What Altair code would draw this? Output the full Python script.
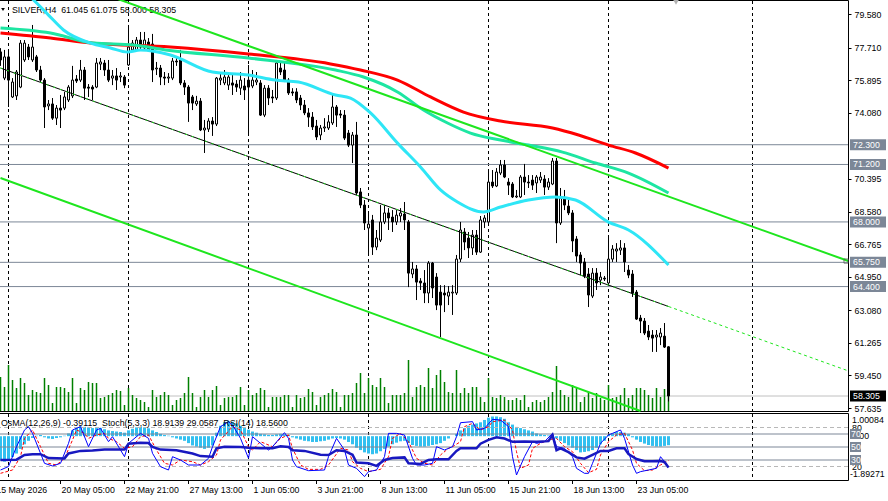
import altair as alt
import pandas as pd

FONT = "Liberation Sans"
FS = 8.8

# ---------------- price data (H4 candles) ----------------
OPEN = [77.47, 76.01, 77.19, 74.96, 75.02, 75.51, 77.02, 77.74, 77.02, 77.19,
        76.46, 75.90, 74.46, 74.57, 73.78, 74.34, 74.34, 74.79, 75.02, 75.96,
        75.90, 76.46, 75.51, 75.51, 75.51, 76.79, 76.85, 76.46, 76.01, 76.13,
        76.07, 76.07, 76.74, 77.58, 77.58, 78.13, 77.69, 78.02, 77.91, 76.52,
        76.57, 76.07, 76.01, 76.01, 76.96, 77.02, 75.74, 75.51, 74.96, 74.57,
        74.73, 73.12, 73.17, 73.62, 73.45, 75.90, 75.74, 75.62, 75.74, 75.68,
        75.45, 75.57, 75.90, 75.57, 75.79, 75.74, 73.95, 75.45, 74.96, 74.90,
        76.57, 76.46, 75.90, 75.24, 75.24, 74.90, 74.51, 74.07, 73.84, 73.34,
        72.84, 73.23, 73.23, 73.51, 74.40, 74.01, 73.95, 72.95, 72.28, 72.84,
        69.67, 68.94, 67.66, 68.11, 66.60, 66.99, 68.00, 68.50, 68.27, 68.00,
        68.33, 68.44, 68.00, 65.10, 65.38, 64.71, 64.60, 64.04, 65.71, 64.93,
        64.09, 64.04, 63.87, 64.04, 64.04, 65.93, 67.44, 67.10, 66.55, 67.27,
        66.32, 68.00, 68.00, 70.22, 70.00, 70.72, 71.17, 70.22, 70.11, 69.39,
        69.39, 70.50, 70.22, 70.33, 70.17, 70.33, 70.39, 69.94, 70.11, 71.39,
        67.94, 69.33, 68.88, 68.50, 67.05, 66.16, 65.77, 65.10, 63.87, 65.15,
        64.76, 64.87, 64.60, 65.93, 66.38, 66.43, 66.55, 65.32, 65.10, 64.09,
        62.65, 62.48, 61.92, 61.70, 61.59, 61.59, 61.64, 61.045]
HIGH = [77.68, 77.58, 77.58, 76.01, 76.46, 78.13, 78.13, 77.91, 78.97, 77.30,
        76.69, 76.01, 74.79, 74.90, 74.51, 75.07, 75.24, 75.62, 76.69, 76.18,
        77.02, 76.63, 75.68, 75.62, 77.13, 77.13, 77.02, 77.02, 76.46, 76.57,
        76.35, 76.18, 78.97, 78.13, 78.30, 78.58, 78.58, 78.24, 78.47, 76.91,
        76.74, 76.35, 76.29, 77.13, 77.24, 77.58, 75.90, 75.62, 75.07, 75.02,
        74.90, 73.68, 73.78, 73.84, 76.07, 76.35, 76.46, 76.18, 76.18, 75.90,
        76.35, 76.01, 76.74, 76.46, 76.35, 75.90, 75.62, 75.62, 75.35, 77.02,
        76.91, 76.91, 76.01, 75.45, 75.45, 75.07, 74.79, 74.34, 74.12, 73.68,
        73.40, 73.78, 73.95, 75.07, 74.51, 74.23, 74.23, 73.12, 73.01, 73.57,
        69.89, 69.22, 68.50, 68.39, 67.55, 68.94, 68.94, 68.77, 68.66, 68.66,
        68.77, 69.11, 68.11, 65.77, 65.60, 64.87, 65.32, 65.82, 65.77, 65.15,
        64.48, 64.48, 64.43, 64.48, 66.16, 68.00, 67.66, 67.44, 67.55, 67.55,
        68.33, 68.38, 70.78, 70.89, 71.00, 71.45, 71.45, 70.44, 70.22, 69.78,
        70.61, 71.23, 70.61, 70.61, 70.61, 70.78, 70.61, 70.44, 71.56, 71.56,
        69.89, 69.78, 69.22, 68.66, 67.21, 66.32, 65.99, 65.43, 65.43, 65.43,
        65.21, 64.99, 67.27, 66.71, 66.82, 66.99, 66.82, 65.60, 65.32, 64.21,
        62.82, 62.65, 62.26, 61.98, 61.98, 62.09, 62.37, 61.075]
LOW = [76.69, 75.90, 74.40, 74.90, 74.79, 75.45, 76.91, 77.02, 76.91, 76.35,
       75.79, 73.23, 74.23, 73.68, 73.40, 73.23, 74.23, 74.68, 74.90, 75.74,
       75.79, 74.79, 74.96, 74.79, 75.45, 76.46, 76.13, 75.79, 75.62, 75.35,
       75.79, 75.45, 76.69, 77.47, 77.47, 77.58, 77.58, 77.47, 75.79, 76.18,
       75.62, 75.62, 75.74, 75.90, 76.69, 75.62, 75.07, 73.57, 74.23, 74.46,
       73.06, 71.84, 73.01, 72.79, 73.34, 75.62, 75.62, 75.35, 75.07, 75.24,
       75.07, 74.79, 72.95, 75.45, 75.62, 73.90, 73.84, 74.51, 74.62, 74.79,
       76.18, 75.79, 75.07, 75.02, 74.62, 74.23, 73.95, 73.29, 73.12, 72.56,
       72.56, 73.01, 73.12, 73.40, 73.29, 73.78, 72.56, 72.17, 71.28, 69.50,
       68.77, 67.55, 66.27, 66.16, 66.43, 66.88, 67.88, 67.55, 67.44, 67.83,
       68.00, 67.55, 64.37, 64.87, 63.65, 64.21, 63.48, 63.48, 63.76, 63.09,
       61.59, 62.98, 63.37, 62.82, 63.93, 65.77, 66.43, 65.99, 66.16, 66.16,
       66.27, 67.66, 67.83, 69.89, 69.94, 70.61, 70.44, 69.50, 69.33, 69.33,
       69.33, 69.50, 69.89, 69.78, 69.61, 70.17, 69.50, 69.78, 70.05, 66.82,
       67.83, 68.66, 68.38, 66.32, 65.77, 65.04, 64.87, 63.26, 63.76, 64.21,
       64.48, 64.71, 64.48, 65.77, 65.77, 66.16, 65.21, 64.87, 63.82, 62.54,
       61.81, 61.70, 61.42, 60.76, 60.76, 61.14, 60.98, 58.00]
CLOSE = [77.02, 77.19, 75.90, 75.79, 76.35, 77.96, 77.96, 77.19, 77.74, 76.46,
         75.90, 74.40, 74.57, 73.78, 74.34, 74.23, 74.96, 75.51, 75.90, 75.85,
         76.46, 75.45, 75.45, 75.40, 76.85, 76.91, 76.46, 75.90, 76.13, 75.90,
         76.13, 75.62, 77.74, 77.96, 78.13, 77.74, 78.13, 77.58, 76.46, 76.57,
         76.07, 76.01, 76.07, 76.96, 76.91, 75.74, 75.51, 74.62, 74.62, 74.73,
         73.12, 73.23, 73.62, 73.45, 76.01, 76.01, 76.07, 76.07, 75.62, 75.51,
         75.90, 75.35, 75.51, 75.90, 75.90, 73.95, 75.45, 74.90, 74.90, 76.85,
         76.35, 75.90, 75.18, 75.18, 74.79, 74.51, 74.07, 73.84, 73.29, 72.73,
         73.23, 73.29, 73.57, 74.40, 73.95, 73.95, 72.67, 72.28, 72.84, 69.61,
         68.94, 67.94, 67.88, 66.60, 67.10, 68.00, 68.50, 68.22, 68.00, 68.38,
         68.50, 68.11, 65.15, 65.38, 64.65, 64.60, 64.04, 65.71, 64.32, 63.37,
         63.37, 63.93, 64.09, 64.09, 65.93, 67.55, 66.88, 66.55, 67.27, 66.32,
         68.11, 68.22, 70.22, 70.00, 70.78, 71.17, 70.50, 70.05, 69.39, 69.44,
         70.50, 70.22, 70.17, 70.05, 70.50, 70.50, 69.94, 70.22, 71.39, 67.94,
         69.33, 68.94, 68.50, 66.94, 66.10, 65.71, 64.99, 63.93, 65.15, 64.60,
         64.93, 64.82, 65.93, 66.49, 66.49, 66.55, 65.77, 65.04, 64.04, 62.59,
         62.48, 61.81, 61.59, 61.53, 61.70, 61.81, 61.03, 58.305]
VOLUME = [680, 480, 920, 620, 460, 660, 560, 320, 420, 380,
          360, 660, 520, 160, 480, 480, 460, 380, 660, 160,
          460, 420, 580, 560, 560, 260, 280, 320, 360, 420,
          400, 120, 460, 320, 260, 220, 180, 80, 420, 280,
          320, 380, 320, 120, 220, 260, 360, 680, 360, 80,
          280, 420, 280, 420, 500, 120, 260, 280, 280, 320,
          480, 120, 420, 320, 360, 460, 420, 80, 280, 280,
          280, 320, 320, 80, 320, 260, 280, 440, 380, 120,
          280, 320, 360, 440, 380, 80, 320, 320, 360, 560,
          760, 360, 660, 520, 480, 660, 480, 160, 320, 320,
          320, 360, 1020, 280, 480, 520, 480, 860, 460, 720,
          820, 580, 380, 360, 820, 360, 460, 360, 480, 480,
          280, 180, 660, 280, 260, 320, 280, 220, 220, 260,
          220, 320, 80, 180, 220, 180, 220, 280, 380, 900,
          420, 320, 280, 520, 480, 180, 280, 380, 260, 360,
          260, 220, 520, 260, 280, 320, 460, 260, 320, 460,
          460, 420, 320, 260, 460, 280, 440, 480]
OSMA = [-1.05, -1.1, -1.0, -0.9, -0.75, -0.55, -0.35, -0.2, -0.08, 0.02,
        0.05, -0.05, -0.1, -0.12, -0.08, -0.05, 0.02, 0.12, 0.25, 0.35,
        0.42, 0.4, 0.38, 0.35, 0.38, 0.36, 0.3, 0.25, 0.22, 0.2,
        0.18, 0.15, 0.25, 0.32, 0.38, 0.4, 0.38, 0.34, 0.25, 0.18,
        0.1, 0.05, 0.02, -0.05, -0.1, -0.15, -0.2, -0.3, -0.4, -0.45,
        -0.5, -0.55, -0.5, -0.4, 0.15, 0.45, 0.6, 0.65, 0.62, 0.55,
        0.45, 0.35, 0.28, 0.2, 0.15, 0.1, 0.08, 0.05, 0.05, 0.08,
        0.1, 0.08, 0.05, -0.05, -0.1, -0.15, -0.2, -0.22, -0.25, -0.25,
        -0.22, -0.2, -0.15, -0.1, -0.08, -0.1, -0.15, -0.25, -0.35, -0.5,
        -0.6, -0.7, -0.75, -0.78, -0.75, -0.65, -0.55, -0.45, -0.35, -0.28,
        -0.22, -0.2, -0.3, -0.38, -0.42, -0.45, -0.45, -0.42, -0.38, -0.35,
        -0.3, -0.2, -0.1, 0.0, 0.1, 0.25, 0.35, 0.45, 0.5, 0.55,
        0.6, 0.7, 0.8, 0.85, 0.85, 0.82, 0.75, 0.6, 0.5, 0.4,
        0.35, 0.3, 0.25, 0.2, 0.12, 0.08, 0.05, 0.03, 0.05, -0.1,
        -0.2, -0.3, -0.4, -0.5, -0.6, -0.7, -0.68, -0.65, -0.6, -0.5,
        -0.35, -0.2, 0.05, 0.12, 0.18, 0.18, 0.15, 0.1, -0.05, -0.15,
        -0.25, -0.32, -0.38, -0.42, -0.45, -0.45, -0.42, -0.39]
BARS = list(range(len(CLOSE)))

# ---------------- oscillators (bar, value) ----------------
STOCH_MAIN_BAR = [0, 2, 4, 6, 7, 8, 11, 13, 15, 17, 18, 20, 22, 24, 25, 27, 28, 31, 32, 35,
                  37, 38, 40, 42, 43, 45, 47, 50, 52, 53, 55, 57, 58, 60, 62, 63, 65, 67, 68, 71,
                  72, 73, 74, 77, 81, 82, 84, 86, 87, 89, 91, 92, 94, 96, 97, 99, 101, 103, 104, 106,
                  108, 109, 111, 113, 114, 115, 118, 119, 121, 123, 125, 127, 128, 129, 131, 133, 134, 136, 138, 139,
                  141, 143, 144, 146, 147, 148, 150, 152, 153, 155, 156, 158, 159, 160, 162, 164, 165, 166, 167]
STOCH_MAIN = [14.6, 20, 50.5, 76.2, 81.3, 71, 24.9, 20.8, 24.9, 55.6, 76.2, 81.3, 50.5, 76.2, 78.7, 58.2, 65.9, 35.1, 55.6, 71,
              63.3, 40.3, 19.7, 14.6, 35.1, 30, 22.3, 22.3, 32.6, 50.5, 81.3, 89, 83.8, 63.3, 32.6, 65.9, 55.6, 45.4, 50.5, 72.1,
              63.3, 30, 19.7, 13.6, 14.6, 35.1, 63.3, 45.4, 22.3, 17.2, 4.4, 12.1, 14.6, 35.1, 71, 71, 68.5, 32.6, 22.3, 22.3,
              24.9, 50.5, 45.4, 50.5, 65.9, 87.4, 89, 76.2, 78.7, 92.6, 91.5, 81.3, 35.1, 6.9, 35.1, 58.2, 55.6, 58.2, 71, 50.5,
              47.9, 35.1, 17.2, 9.5, 9.5, 24.9, 55.6, 68.5, 71, 76.2, 63.3, 22.3, 9.5, 12.1, 14.6, 17.2, 35.1, 27.4, 18.91]
STOCH_SIG_BAR = [0, 3, 5, 6, 8, 10, 12, 14, 16, 18, 19, 21, 22, 24, 26, 27, 29, 31, 33, 35,
                 37, 39, 41, 43, 45, 48, 50, 52, 54, 55, 58, 60, 62, 63, 65, 68, 70, 72, 73, 75,
                 77, 80, 82, 85, 87, 88, 90, 92, 95, 97, 98, 100, 102, 104, 106, 108, 110, 112, 113, 115,
                 116, 118, 120, 122, 123, 126, 128, 129, 130, 132, 133, 135, 137, 139, 141, 143, 145, 147, 149, 150,
                 152, 154, 156, 158, 159, 161, 163, 165, 167]
STOCH_SIG = [9.5, 14.6, 35.1, 63.3, 76.2, 50.5, 24.9, 22.3, 32.6, 60.8, 76.2, 71, 63.3, 68.5, 71, 63.3, 58.2, 47.9, 50.5, 65.9,
             68.5, 45.4, 24.9, 22.3, 30, 27.4, 22.3, 27.4, 37.7, 60.8, 81.3, 76.2, 50.5, 45.4, 58.2, 50.5, 63.3, 68.5, 47.9, 22.3,
             15.6, 15.6, 22.3, 47.9, 45.4, 27.4, 17.2, 12.1, 15.6, 35.1, 63.3, 71, 58.2, 32.6, 24.9, 22.3, 37.7, 47.9, 50.5, 58.2,
             81.3, 86.4, 76.2, 81.3, 89, 91.5, 76.2, 42.8, 17.2, 22.3, 47.9, 55.6, 60.8, 63.3, 50.5, 42.8, 24.9, 10.5, 15.6, 37.7,
             58.2, 68.5, 71, 45.4, 24.9, 13.6, 14.6, 22.3, 29.06]
RSI_BAR = [0, 4, 6, 8, 10, 12, 16, 17, 20, 23, 26, 31, 32, 35, 37, 38, 40, 44, 48, 50,
           53, 54, 56, 60, 62, 65, 68, 70, 72, 73, 76, 80, 82, 84, 86, 88, 89, 92, 94, 96,
           98, 101, 102, 105, 107, 109, 112, 114, 115, 119, 120, 122, 124, 126, 128, 131, 134, 137, 138, 139,
           140, 142, 144, 146, 148, 150, 152, 154, 156, 157, 159, 161, 163, 165, 166, 167]
RSI = [30, 30.5, 37.7, 39, 39, 33, 32.5, 40, 44, 44.5, 46, 46, 55, 56.6, 56, 50, 46, 45, 40, 36,
       35, 48, 50.5, 50, 49, 48, 48, 51, 50, 45, 44, 38, 37.7, 45, 44, 38, 26, 25, 21, 30,
       33, 34, 25, 24, 30, 31, 31, 44, 48, 48, 55, 61, 65, 63, 58, 58.5, 58, 59, 68.5, 45,
       48, 42, 34, 32, 38, 44, 44, 48, 48, 39, 31.5, 28, 28, 28.5, 27, 18.56]

# ---------------- moving averages ----------------
RED_MA_BAR = [0, 12.5, 22.5, 42.5, 62, 82.5, 90, 99.25, 107.5, 115.75, 125, 138, 144.5, 152, 158.75, 167]
RED_MA = [78.52, 78.24, 77.96, 77.74, 77.35, 76.80, 76.46, 75.90, 74.96, 74.12, 73.62, 73.23, 72.84, 72.28, 71.84, 71.00]
TEAL_MA_BAR = [0, 12.5, 23.25, 33.25, 41.25, 62, 83.75, 90.75, 99.25, 105.75, 111.75, 117.5, 125, 132, 140.5, 148.75, 157, 167]
TEAL_MA = [78.80, 78.52, 77.96, 77.85, 77.58, 77.13, 76.46, 76.07, 75.24, 74.23, 73.51, 72.95, 72.56, 72.28, 71.89, 71.28, 70.72, 69.61]
CYAN_MA_BAR = [6, 8.25, 12, 15.75, 22.5, 27.5, 31.75, 35, 42.5, 53, 62, 68.75, 74.5, 83.75, 87.5, 92.5, 99.25, 105,
               110, 114.25, 120.75, 125, 132, 138.75, 143.75, 152, 157, 167]
CYAN_MA = [80.81, 80.36, 79.52, 78.69, 77.96, 77.69, 77.46, 77.58, 77.30, 76.35, 76.18, 75.90, 75.79, 75.07, 74.90, 74.07,
           72.39, 71.06, 69.78, 69.11, 68.55, 68.83, 69.22, 69.39, 69.22, 67.99, 67.55, 65.60]

# ---------------- trend channel ----------------
UPPER_BAR, UPPER = [28, 212], [80.52, 65.82]
MID_BAR, MID = [0, 167], [76.57, 63.29]
MID_EXT_BAR, MID_EXT = [167, 212], [63.29, 59.70]
LOWER_BAR, LOWER = [0, 160], [70.45, 57.47]

LEVELS = [72.30, 71.20, 68.00, 65.75, 64.40]
LEVEL_LABELS = ["72.300", "71.200", "68.000", "65.750", "64.400"]
BID = 58.305
PRICE_TICKS = [79.580, 77.710, 75.895, 74.080, 70.395, 68.580, 66.765, 64.950, 63.080, 61.265, 59.450, 57.635]
GRID_BARS = [2, 32, 62, 92, 122, 152, 188]
XLAB_BAR = [-1.3, 15, 31, 47, 63, 79, 95, 111, 127, 143, 159]
XLAB = ["15 May 2026", "20 May 05:00", "22 May 21:00", "27 May 13:00", "1 Jun 05:00", "3 Jun 21:00",
        "8 Jun 13:00", "11 Jun 05:00", "15 Jun 21:00", "18 Jun 13:00", "23 Jun 05:00"]
OSC_LEVELS_SOLID = [70, 50, 30]
OSC_LEVELS_DASH = [80, 20]
HEADER = "SILVER,H4\u00a0\u00a061.045 61.075 58.000 58.305"
IND_HEADER = "OsMA(12,26,9) -0.39115\u00a0\u00a0Stoch(5,3,3) 18.9139 29.0587\u00a0\u00a0RSI(14) 18.5600"

# ---------------- style ----------------
W, H = 848, 480
MAIN_BOTTOM, IND_TOP, IND_BOTTOM = 411, 413, 480
LEVEL_COLOR = "#7C8797"
GREEN = "#1EE61E"
OSMA_COLOR = "#33C0F0"

xsc = alt.Scale(domain=[-0.125, 211.875], nice=False, zero=False, padding=0)
X = alt.X("bar:Q", scale=xsc, axis=None)


def psc():
    return alt.Scale(domain=[57.47, 80.36], range=[MAIN_BOTTOM, 0], nice=False, zero=False)


def osma_sc():
    return alt.Scale(domain=[-1.89271, 1.00084], range=[IND_BOTTOM, IND_TOP], nice=False, zero=False)


def osc_sc():
    return alt.Scale(domain=[0, 100], range=[479.5, 414.5], nice=False, zero=False)


one = pd.DataFrame({"k": [0]})
candles = pd.DataFrame(dict(bar=BARS, open=OPEN, high=HIGH, low=LOW, close=CLOSE, volume=VOLUME, osma=OSMA))
candles["dir"] = ["up" if c >= o else "down" for o, c in zip(OPEN, CLOSE)]

price_axis = alt.Axis(orient="right", values=PRICE_TICKS, format=".3f", labelFont=FONT, labelFontSize=FS,
                      labelColor="black", tickColor="black", tickSize=3, labelPadding=3, domain=False,
                      grid=False, labelOverlap=False, title=None)


def pline(bars, vals, color, width, dash=None, clip=True, interp="linear"):
    kw = dict(color=color, strokeWidth=width, clip=clip, interpolate=interp)
    if dash:
        kw["strokeDash"] = dash
    return alt.Chart(pd.DataFrame({"bar": bars, "price": vals})).mark_line(**kw).encode(
        x=X, y=alt.Y("price:Q", scale=psc(), axis=None))


def oline(bars, vals, color, width, dash=None):
    kw = dict(color=color, strokeWidth=width)
    if dash:
        kw["strokeDash"] = dash
    return alt.Chart(pd.DataFrame({"bar": bars, "v": vals})).mark_line(**kw).encode(
        x=X, y=alt.Y("v:Q", scale=osc_sc(), axis=None))


layers = []
# frames
layers.append(alt.Chart(one).mark_rect(fillOpacity=0, stroke="black", strokeWidth=1).encode(
    x=alt.value(-2), x2=alt.value(848.5), y=alt.value(0.5), y2=alt.value(411.5)))
layers.append(alt.Chart(one).mark_rect(fillOpacity=0, stroke="black", strokeWidth=1).encode(
    x=alt.value(-2), x2=alt.value(848.5), y=alt.value(413.5), y2=alt.value(480.5)))
# grid
gdf = pd.DataFrame({"bar": GRID_BARS})
layers.append(alt.Chart(gdf).mark_rule(color="black", strokeDash=[3, 3], strokeWidth=1).encode(
    x=X, y=alt.value(1), y2=alt.value(MAIN_BOTTOM)))
layers.append(alt.Chart(gdf).mark_rule(color="black", strokeDash=[3, 3], strokeWidth=1).encode(
    x=X, y=alt.value(IND_TOP + 1), y2=alt.value(IND_BOTTOM)))
# level lines
ldf = pd.DataFrame({"price": LEVELS, "label": LEVEL_LABELS})
layers.append(alt.Chart(ldf).mark_rule(color=LEVEL_COLOR, strokeWidth=1).encode(
    y=alt.Y("price:Q", scale=psc(), axis=None)))
bdf = pd.DataFrame({"price": [BID], "label": ["58.305"]})
layers.append(alt.Chart(bdf).mark_rule(color="#C0C0C0", strokeWidth=1).encode(
    y=alt.Y("price:Q", scale=psc(), axis=None)))
# volumes
layers.append(alt.Chart(candles).mark_rule(color="#008000", strokeWidth=1.5).encode(
    x=X, y=alt.Y("volume:Q", scale=alt.Scale(domain=[0, 8220], range=[MAIN_BOTTOM, 0], nice=False, zero=False), axis=None),
    y2=alt.datum(0)))
# header
layers.append(alt.Chart(one).mark_text(align="left", baseline="middle", font=FONT, fontSize=FS, color="black").encode(
    x=alt.value(12), y=alt.value(9.5), text=alt.value(HEADER)))
layers.append(alt.Chart(one).mark_point(shape="triangle-down", filled=True, color="black", size=14, opacity=1).encode(
    x=alt.value(3), y=alt.value(9.5)))
# candles
layers.append(alt.Chart(candles).mark_rule(color="black", strokeWidth=1, clip=True).encode(
    x=X, y=alt.Y("low:Q", scale=psc(), axis=price_axis), y2="high:Q"))
layers.append(alt.Chart(candles).mark_bar(size=2, stroke="black", strokeWidth=1, clip=True).encode(
    x=X, y=alt.Y("open:Q", scale=psc(), axis=None), y2="close:Q",
    fill=alt.Fill("dir:N", scale=alt.Scale(domain=["up", "down"], range=["white", "black"]), legend=None)))
# moving averages
layers.append(pline(RED_MA_BAR, RED_MA, "#FF0000", 3, interp="monotone"))
layers.append(pline(TEAL_MA_BAR, TEAL_MA, "#1DE6A2", 3, interp="monotone"))
layers.append(pline(CYAN_MA_BAR, CYAN_MA, "#2EE6F6", 3, interp="monotone"))
# channel
layers.append(pline(UPPER_BAR, UPPER, GREEN, 2))
layers.append(pline(LOWER_BAR, LOWER, GREEN, 2))
layers.append(pline(MID_BAR, MID, "black", 1))
layers.append(pline(MID_BAR, MID, GREEN, 1, dash=[2, 5]))
layers.append(pline(MID_EXT_BAR, MID_EXT, GREEN, 1, dash=[3, 3]))
layers.append(alt.Chart(pd.DataFrame({"bar": [UPPER_BAR[1] - 0.6], "price": [UPPER[1]]})).mark_point(
    shape="square", filled=False, color="#505050", size=18, strokeWidth=1).encode(
    x=X, y=alt.Y("price:Q", scale=psc(), axis=None)))
layers.append(alt.Chart(one).mark_point(shape="triangle-down", filled=True, color="#B0B0B0", size=40, opacity=1).encode(
    x=alt.value(676), y=alt.value(2)))
# price label boxes
layers.append(alt.Chart(ldf).mark_rule(color=LEVEL_COLOR, strokeWidth=11).encode(
    x=alt.value(850), x2=alt.value(886), y=alt.Y("price:Q", scale=psc(), axis=None)))
layers.append(alt.Chart(ldf).mark_text(align="left", baseline="middle", color="white", font=FONT, fontSize=FS).encode(
    x=alt.value(853), y=alt.Y("price:Q", scale=psc(), axis=None), text="label:N"))
layers.append(alt.Chart(bdf).mark_rule(color="black", strokeWidth=11).encode(
    x=alt.value(850), x2=alt.value(886), y=alt.Y("price:Q", scale=psc(), axis=None)))
layers.append(alt.Chart(bdf).mark_text(align="left", baseline="middle", color="white", font=FONT, fontSize=FS).encode(
    x=alt.value(853), y=alt.Y("price:Q", scale=psc(), axis=None), text="label:N"))

# ---------------- indicator window ----------------
layers.append(alt.Chart(candles).mark_bar(size=3, color=OSMA_COLOR).encode(
    x=X, y=alt.Y("osma:Q", scale=osma_sc(), axis=None), y2=alt.datum(0)))
layers.append(alt.Chart(pd.DataFrame({"v": OSC_LEVELS_DASH})).mark_rule(color="#B8B8B8", strokeDash=[4, 3]).encode(
    y=alt.Y("v:Q", scale=osc_sc(), axis=None)))
layers.append(alt.Chart(pd.DataFrame({"v": OSC_LEVELS_SOLID})).mark_rule(color=LEVEL_COLOR).encode(
    y=alt.Y("v:Q", scale=osc_sc(), axis=None)))
layers.append(oline(STOCH_SIG_BAR, STOCH_SIG, "#FF0000", 1, dash=[3, 2]))
layers.append(oline(STOCH_MAIN_BAR, STOCH_MAIN, "#0000FF", 1))
layers.append(oline(RSI_BAR, RSI, "#1818C0", 2.5))
layers.append(alt.Chart(one).mark_text(align="left", baseline="middle", font=FONT, fontSize=FS, color="black").encode(
    x=alt.value(1), y=alt.value(422.5), text=alt.value(IND_HEADER)))
# indicator right scale labels
layers.append(alt.Chart(pd.DataFrame({"v": [80, 20], "t": ["80", "20"]})).mark_text(
    align="left", baseline="middle", font=FONT, fontSize=FS, color="black").encode(
    x=alt.value(852), y=alt.Y("v:Q", scale=osc_sc(), axis=None), text="t:N"))
layers.append(alt.Chart(pd.DataFrame({"v": [0.0], "t": ["0.00"]})).mark_text(
    align="left", baseline="middle", font=FONT, fontSize=FS, color="black").encode(
    x=alt.value(852), y=alt.Y("v:Q", scale=osma_sc(), axis=None), text="t:N"))
layers.append(alt.Chart(pd.DataFrame({"v": [1.00084], "t": ["1.00084"]})).mark_text(
    align="left", baseline="top", font=FONT, fontSize=FS, color="black", dy=3).encode(
    x=alt.value(852), y=alt.Y("v:Q", scale=osma_sc(), axis=None), text="t:N"))
layers.append(alt.Chart(pd.DataFrame({"v": [-1.89271], "t": ["-1.89271"]})).mark_text(
    align="left", baseline="bottom", font=FONT, fontSize=FS, color="black", dy=-1).encode(
    x=alt.value(850), y=alt.Y("v:Q", scale=osma_sc(), axis=None), text="t:N"))
odf = pd.DataFrame({"v": OSC_LEVELS_SOLID, "t": [str(v) for v in OSC_LEVELS_SOLID]})
layers.append(alt.Chart(odf).mark_rule(color=LEVEL_COLOR, strokeWidth=10).encode(
    x=alt.value(850), x2=alt.value(861), y=alt.Y("v:Q", scale=osc_sc(), axis=None)))
layers.append(alt.Chart(odf).mark_text(align="left", baseline="middle", color="white", font=FONT, fontSize=FS).encode(
    x=alt.value(851), y=alt.Y("v:Q", scale=osc_sc(), axis=None), text="t:N"))
# time axis
xdf = pd.DataFrame({"bar": XLAB_BAR, "label": XLAB})
layers.append(alt.Chart(xdf).mark_rule(color="black").encode(x=X, y=alt.value(480), y2=alt.value(484)))
layers.append(alt.Chart(xdf).mark_text(align="left", baseline="middle", font=FONT, fontSize=FS, color="black", dx=1).encode(
    x=X, y=alt.value(489.5), text="label:N"))

chart = alt.layer(*layers).resolve_scale(y="independent").properties(
    width=W, height=H,
    autosize=alt.AutoSizeParams(type="none"),
    padding={"left": 0, "top": 0, "right": 40, "bottom": 21},
    background="white",
).configure_view(stroke=None)

chart.save("out.html", embed_options={"renderer": "svg", "actions": False})
